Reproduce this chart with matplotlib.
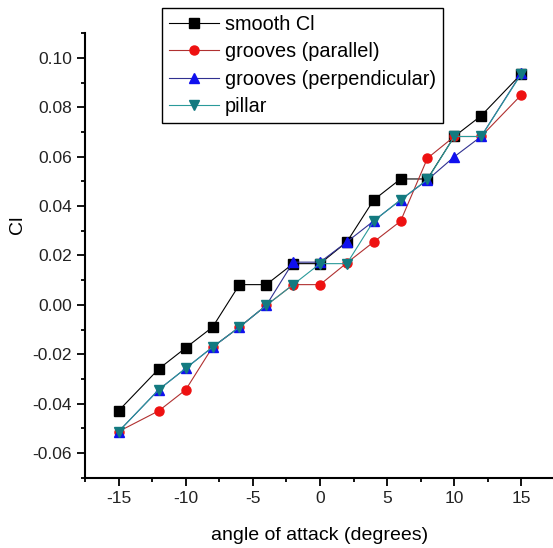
import matplotlib
matplotlib.use("Agg")
import matplotlib.pyplot as plt
from matplotlib.ticker import MultipleLocator, FormatStrFormatter

plt.rcParams["font.family"] = ["Liberation Sans", "DejaVu Sans"]
plt.rcParams["axes.unicode_minus"] = False

# angle of attack (degrees)
angles = [-15, -12, -10, -8, -6, -4, -2, 0, 2, 4, 6, 8, 10, 12, 15]

# lift coefficient per surface
smooth = [-0.0429, -0.0259, -0.0174, -0.0090, 0.0082, 0.0082, 0.0167, 0.0167,
          0.0255, 0.0425, 0.0510, 0.0510, 0.0682, 0.0766, 0.0936]
grooves_par = [-0.0513, -0.0429, -0.0344, -0.0171, -0.0090, -0.0002, 0.0082, 0.0082,
               0.0170, 0.0255, 0.0339, 0.0594, 0.0682, 0.0682, 0.0851]
grooves_perp = [-0.0513, -0.0343, -0.0257, -0.0171, -0.0090, -0.0002, 0.0173, 0.0173,
                0.0255, 0.0340, 0.0425, 0.0506, 0.0600, 0.0682, 0.0939]
pillar = [-0.0513, -0.0343, -0.0257, -0.0171, -0.0090, -0.0002, 0.0082, 0.0167,
          0.0167, 0.0340, 0.0425, 0.0508, 0.0682, 0.0682, 0.0936]

W, H = 553, 548
fig = plt.figure(figsize=(W / 100, H / 100), dpi=100)
ax = fig.add_axes([85 / W, 1 - 477.7 / H, (555 - 85) / W, (477.7 - 33.3) / H])

ms = 6.5
ax.plot(angles, smooth, color="black", lw=0.8, marker="s", ms=ms,
        mfc="black", mec="black", label="smooth Cl")
ax.plot(angles, grooves_par, color="#b03030", lw=0.8, marker="o", ms=ms,
        mfc="#ee1111", mec="#ee1111", label="grooves (parallel)")
ax.plot(angles, grooves_perp, color="#303090", lw=0.8, marker="^", ms=ms + 0.5,
        mfc="#1010ee", mec="#1010ee", label="grooves (perpendicular)")
ax.plot(angles, pillar, color="#2a9a9a", lw=0.8, marker="v", ms=ms + 0.5,
        mfc="#137a80", mec="#137a80", label="pillar")

ax.set_xlim(-17.5, 17.5)
ax.set_ylim(-0.07, 0.11)
ax.xaxis.set_major_locator(MultipleLocator(5))
ax.xaxis.set_minor_locator(MultipleLocator(2.5))
ax.yaxis.set_major_locator(MultipleLocator(0.02))
ax.yaxis.set_minor_locator(MultipleLocator(0.01))
ax.yaxis.set_major_formatter(FormatStrFormatter("%.2f"))

for side in ("top", "right"):
    ax.spines[side].set_visible(False)
for side in ("left", "bottom"):
    ax.spines[side].set_linewidth(1.5)

ax.tick_params(which="major", direction="out", length=5.5, width=1.3,
               labelsize=12.5, pad=4, labelcolor="#222222")
ax.tick_params(which="minor", direction="out", length=3, width=1.3)

ax.set_xlabel("angle of attack (degrees)", fontsize=14, labelpad=15)
ax.set_ylabel("Cl", fontsize=14)
ax.yaxis.set_label_coords(-0.125, 0.57)

fig.legend(loc="upper left", bbox_to_anchor=(162 / W, 1 - 8 / H),
           borderaxespad=0, fontsize=14.3, frameon=True, fancybox=False,
           edgecolor="black", framealpha=1, borderpad=0.35, labelspacing=0.42,
           handlelength=2.5, handletextpad=0.3)
fig.legends[0].get_frame().set_linewidth(1.0)

fig.savefig("out.png", dpi=100)
